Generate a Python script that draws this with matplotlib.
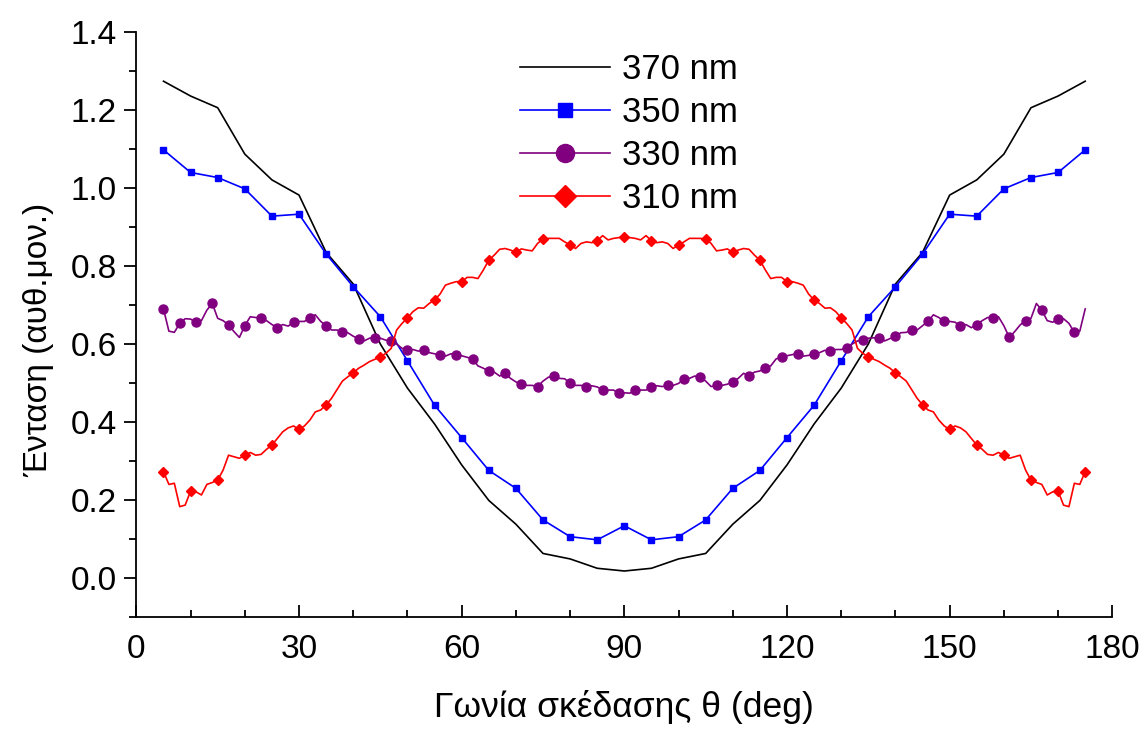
import numpy as np
import matplotlib
matplotlib.use("Agg")
import matplotlib.pyplot as plt
from matplotlib.ticker import MultipleLocator

plt.rcParams['font.family'] = ['Liberation Sans', 'DejaVu Sans']

# Scattering angle (deg)
angle_5deg = [5, 10, 15, 20, 25, 30, 35, 40, 45, 50, 55, 60, 65, 70, 75, 80, 85, 90,
              95, 100, 105, 110, 115, 120, 125, 130, 135, 140, 145, 150, 155, 160, 165, 170, 175]
angle_1deg = list(range(5, 176))

# 370 nm (no markers)
i_370 = [1.274, 1.236, 1.206, 1.087, 1.021, 0.982, 0.835, 0.754, 0.600, 0.487, 0.395, 0.290,
         0.199, 0.138, 0.063, 0.049, 0.025, 0.018, 0.025, 0.049, 0.063, 0.138, 0.199, 0.290,
         0.395, 0.487, 0.600, 0.754, 0.835, 0.982, 1.021, 1.087, 1.206, 1.236, 1.274]

# 350 nm
i_350 = [1.098, 1.040, 1.027, 0.998, 0.928, 0.933, 0.831, 0.747, 0.670, 0.557, 0.443, 0.360,
         0.276, 0.230, 0.149, 0.106, 0.098, 0.134, 0.098, 0.106, 0.149, 0.230, 0.276, 0.360,
         0.443, 0.557, 0.670, 0.747, 0.831, 0.933, 0.928, 0.998, 1.027, 1.040, 1.098]

# 330 nm, 1 deg steps (5..175)
i_330 = [0.690, 0.633, 0.630, 0.653, 0.665, 0.664, 0.656, 0.660, 0.687, 0.704,
         0.666, 0.660, 0.649, 0.632, 0.617, 0.647, 0.670, 0.668, 0.668, 0.660,
         0.650, 0.642, 0.650, 0.646, 0.656, 0.658, 0.658, 0.668, 0.675, 0.658,
         0.647, 0.636, 0.636, 0.630, 0.629, 0.620, 0.614, 0.608, 0.615, 0.616,
         0.615, 0.610, 0.608, 0.600, 0.589, 0.586, 0.586, 0.582, 0.584, 0.578,
         0.575, 0.571, 0.569, 0.575, 0.573, 0.570, 0.566, 0.562, 0.544, 0.538,
         0.531, 0.528, 0.518, 0.525, 0.512, 0.503, 0.497, 0.494, 0.494, 0.491,
         0.505, 0.515, 0.518, 0.512, 0.511, 0.499, 0.494, 0.494, 0.491, 0.493,
         0.490, 0.482, 0.482, 0.482, 0.474, 0.475, 0.474, 0.482, 0.482, 0.482,
         0.490, 0.493, 0.491, 0.494, 0.494, 0.499, 0.511, 0.512, 0.518, 0.515,
         0.505, 0.491, 0.494, 0.494, 0.497, 0.503, 0.512, 0.525, 0.518, 0.528,
         0.531, 0.538, 0.544, 0.562, 0.566, 0.570, 0.573, 0.575, 0.569, 0.571,
         0.575, 0.578, 0.584, 0.582, 0.586, 0.586, 0.589, 0.600, 0.608, 0.610,
         0.615, 0.616, 0.615, 0.608, 0.614, 0.620, 0.629, 0.630, 0.636, 0.636,
         0.647, 0.658, 0.675, 0.668, 0.658, 0.658, 0.656, 0.646, 0.650, 0.642,
         0.650, 0.660, 0.668, 0.668, 0.670, 0.647, 0.617, 0.632, 0.649, 0.660,
         0.666, 0.704, 0.687, 0.660, 0.656, 0.664, 0.665, 0.653, 0.630, 0.633,
         0.690]

# 310 nm, 1 deg steps (5..175)
i_310 = [0.273, 0.240, 0.243, 0.183, 0.187, 0.223, 0.221, 0.213, 0.240, 0.245,
         0.251, 0.277, 0.315, 0.311, 0.307, 0.315, 0.322, 0.315, 0.317, 0.330,
         0.341, 0.358, 0.375, 0.385, 0.390, 0.381, 0.390, 0.405, 0.426, 0.431,
         0.444, 0.461, 0.483, 0.505, 0.516, 0.526, 0.538, 0.546, 0.555, 0.561,
         0.567, 0.576, 0.589, 0.636, 0.653, 0.667, 0.683, 0.693, 0.692, 0.704,
         0.713, 0.728, 0.751, 0.756, 0.760, 0.760, 0.771, 0.771, 0.768, 0.790,
         0.815, 0.828, 0.843, 0.845, 0.841, 0.835, 0.844, 0.841, 0.839, 0.858,
         0.869, 0.871, 0.871, 0.871, 0.862, 0.854, 0.845, 0.858, 0.862, 0.860,
         0.865, 0.878, 0.867, 0.871, 0.873, 0.875, 0.873, 0.871, 0.867, 0.878,
         0.865, 0.860, 0.862, 0.858, 0.845, 0.854, 0.862, 0.871, 0.871, 0.871,
         0.869, 0.858, 0.839, 0.841, 0.844, 0.835, 0.841, 0.845, 0.843, 0.828,
         0.815, 0.790, 0.768, 0.771, 0.771, 0.760, 0.760, 0.756, 0.751, 0.728,
         0.713, 0.704, 0.692, 0.693, 0.683, 0.667, 0.653, 0.636, 0.589, 0.576,
         0.567, 0.561, 0.555, 0.546, 0.538, 0.526, 0.516, 0.505, 0.483, 0.461,
         0.444, 0.431, 0.426, 0.405, 0.390, 0.381, 0.390, 0.385, 0.375, 0.358,
         0.341, 0.330, 0.317, 0.315, 0.322, 0.315, 0.307, 0.311, 0.315, 0.277,
         0.251, 0.245, 0.240, 0.213, 0.221, 0.223, 0.187, 0.183, 0.243, 0.240,
         0.273]

fig = plt.figure(figsize=(11.46, 7.29), dpi=100)
ax = fig.add_axes([0.119, 0.1536, 0.8516, 0.8024])

ax.plot(angle_5deg, i_370, color='black', lw=1.2, label='370 nm')
ax.plot(angle_5deg, i_350, color='#0000ff', lw=1.2, marker='s', ms=5,
        mec='#0000ff', label='350 nm')
ax.plot(angle_1deg, i_330, color='#800080', lw=1.2, marker='o', ms=6.5,
        mec='#800080', markevery=3, label='330 nm')
ax.plot(angle_1deg, i_310, color='#ff0000', lw=1.2, marker='D', ms=5.5,
        mec='#ff0000', markevery=5, label='310 nm')

ax.set_xlim(0, 180)
ax.set_ylim(-0.1, 1.4)
ax.xaxis.set_major_locator(MultipleLocator(30))
ax.xaxis.set_minor_locator(MultipleLocator(10))
ax.yaxis.set_major_locator(MultipleLocator(0.2))
ax.yaxis.set_minor_locator(MultipleLocator(0.1))
ax.yaxis.set_major_formatter(plt.FormatStrFormatter('%.1f'))

ax.spines['top'].set_visible(False)
ax.spines['right'].set_visible(False)
ax.spines['left'].set_linewidth(1.3)
ax.spines['bottom'].set_linewidth(1.3)
ax.tick_params(axis='x', which='major', direction='in', length=9, width=1.3,
               labelsize=24, pad=12)
ax.tick_params(axis='x', which='minor', direction='in', length=5, width=1.3)
ax.tick_params(axis='y', which='major', direction='out', length=9, width=1.3,
               labelsize=24, pad=5)
ax.tick_params(axis='y', which='minor', direction='out', length=5, width=1.3)

ax.set_xlabel('Γωνία σκέδασης θ (deg)', fontsize=25.5, labelpad=18)
ax.set_ylabel('Ένταση (αυθ.μον.)', fontsize=24)
ax.yaxis.set_label_coords(-0.084, 0.474)

ax.legend(loc='upper left', bbox_to_anchor=(0.393, 0.964), frameon=False,
          fontsize=25, markerscale=2, handlelength=2.6, handletextpad=0.35,
          labelspacing=0.29, borderpad=0, borderaxespad=0)

fig.savefig('out.png', dpi=100)
